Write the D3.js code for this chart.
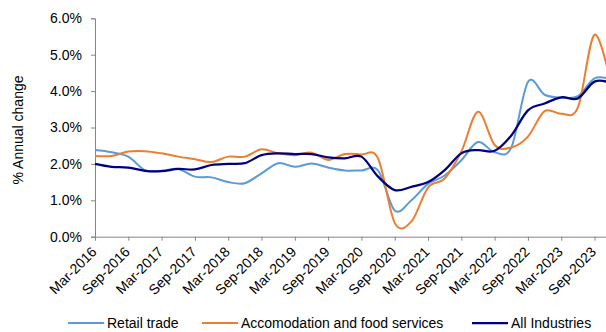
<!DOCTYPE html>
<html>
<head>
<meta charset="utf-8">
<script src="https://cdn.jsdelivr.net/npm/d3@7"></script>
<style>
  html, body { margin: 0; padding: 0; background: #fff; }
  svg { display: block; font-family: "Liberation Sans", Arial, sans-serif; }
</style>
</head>
<body>
<svg id="chart" width="606" height="332"></svg>
<script>
const quarters = [
  "Mar-2016","Jun-2016","Sep-2016","Dec-2016",
  "Mar-2017","Jun-2017","Sep-2017","Dec-2017",
  "Mar-2018","Jun-2018","Sep-2018","Dec-2018",
  "Mar-2019","Jun-2019","Sep-2019","Dec-2019",
  "Mar-2020","Jun-2020","Sep-2020","Dec-2020",
  "Mar-2021","Jun-2021","Sep-2021","Dec-2021",
  "Mar-2022","Jun-2022","Sep-2022","Dec-2022",
  "Mar-2023","Jun-2023","Sep-2023","Dec-2023"
];
const retail = [
  2.38, 2.32, 2.20, 1.83,
  1.81, 1.86, 1.65, 1.63,
  1.50, 1.47, 1.74, 2.02,
  1.92, 2.01, 1.90, 1.82,
  1.82, 1.82, 0.72, 1.00,
  1.45, 1.68, 2.10, 2.60,
  2.32, 2.45, 4.25, 3.90,
  3.82, 3.86, 4.35, 4.32
];
const accommodation = [
  2.22, 2.22, 2.34, 2.35,
  2.29, 2.20, 2.13, 2.05,
  2.20, 2.20, 2.40, 2.29,
  2.24, 2.31, 2.11, 2.27,
  2.26, 2.15, 0.38, 0.42,
  1.35, 1.60, 2.34, 3.43,
  2.52, 2.45, 2.75, 3.45,
  3.38, 3.55, 5.55, 4.15
];
const allIndustries = [
  2.00, 1.92, 1.90, 1.81,
  1.80, 1.86, 1.85, 1.97,
  2.00, 2.02, 2.24, 2.29,
  2.27, 2.27, 2.18, 2.15,
  2.20, 1.65, 1.28, 1.37,
  1.50, 1.83, 2.29, 2.38,
  2.36, 2.78, 3.47, 3.66,
  3.83, 3.80, 4.26, 4.22
];
const yTicks = [0, 1, 2, 3, 4, 5, 6];
const xTickLabels = quarters.filter(q => q.startsWith("Mar") || q.startsWith("Sep"));
const seriesNames = ["Retail trade", "Accomodation and food services", "All Industries"];
const seriesColors = ["#5B9BD5", "#ED7D31", "#000080"];

const series = [
  { name: seriesNames[0], values: retail, color: seriesColors[0], width: 2 },
  { name: seriesNames[1], values: accommodation, color: seriesColors[1], width: 2 },
  { name: seriesNames[2], values: allIndustries, color: seriesColors[2], width: 2.25 }
];

const svg = d3.select("#chart");
const plotLeft = 95, plotRight = 611.2, plotTop = 18.3, plotBottom = 236.7;

const x = d3.scalePoint().domain(quarters).range([plotLeft, plotRight]);
const y = d3.scaleLinear().domain([0, 6]).range([plotBottom, plotTop]);

// Y axis
const yAxis = svg.append("g")
  .attr("transform", `translate(${plotLeft},0)`)
  .call(d3.axisLeft(y).tickValues(yTicks).tickSize(4).tickPadding(9)
    .tickFormat(d => d.toFixed(1) + "%"));
yAxis.select(".domain").attr("stroke", "#868686").attr("stroke-width", 1);
yAxis.selectAll(".tick line").attr("stroke", "#868686");
yAxis.selectAll("text").attr("font-size", "14px").attr("fill", "#000");

// X axis
const xAxis = svg.append("g")
  .attr("transform", `translate(0,${plotBottom})`)
  .call(d3.axisBottom(x).tickValues(xTickLabels).tickSizeInner(4).tickSizeOuter(0));
xAxis.select(".domain").attr("stroke", "#868686").attr("stroke-width", 1);
xAxis.selectAll(".tick line").attr("stroke", "#868686");
xAxis.selectAll("text")
  .attr("font-size", "14px")
  .attr("fill", "#000")
  .attr("text-anchor", "end")
  .attr("dy", null)
  .attr("y", 0)
  .attr("transform", "translate(2,16) rotate(-45)");

// Lines
const line = d3.line()
  .x((d, i) => x(quarters[i]))
  .y(d => y(d))
  .curve(d3.curveCardinal.tension(0));

svg.append("g").selectAll("path")
  .data(series)
  .join("path")
  .attr("fill", "none")
  .attr("stroke", d => d.color)
  .attr("stroke-width", d => d.width)
  .attr("stroke-linejoin", "round")
  .attr("d", d => line(d.values));

// Y axis title
svg.append("text")
  .attr("transform", "translate(23,130) rotate(-90)")
  .attr("text-anchor", "middle")
  .attr("font-size", "14px")
  .attr("fill", "#000")
  .text("% Annual change");

// Legend
const legendX = [68, 202, 472];
const legend = svg.append("g").selectAll("g")
  .data(series)
  .join("g")
  .attr("transform", (d, i) => `translate(${legendX[i]},323)`);
legend.append("line")
  .attr("x1", 0).attr("x2", 36).attr("y1", 0).attr("y2", 0)
  .attr("stroke", d => d.color).attr("stroke-width", d => d.width);
legend.append("text")
  .attr("x", 39).attr("y", 0).attr("dy", "0.35em")
  .attr("font-size", "14px").attr("fill", "#000")
  .text(d => d.name);
</script>
</body>
</html>
